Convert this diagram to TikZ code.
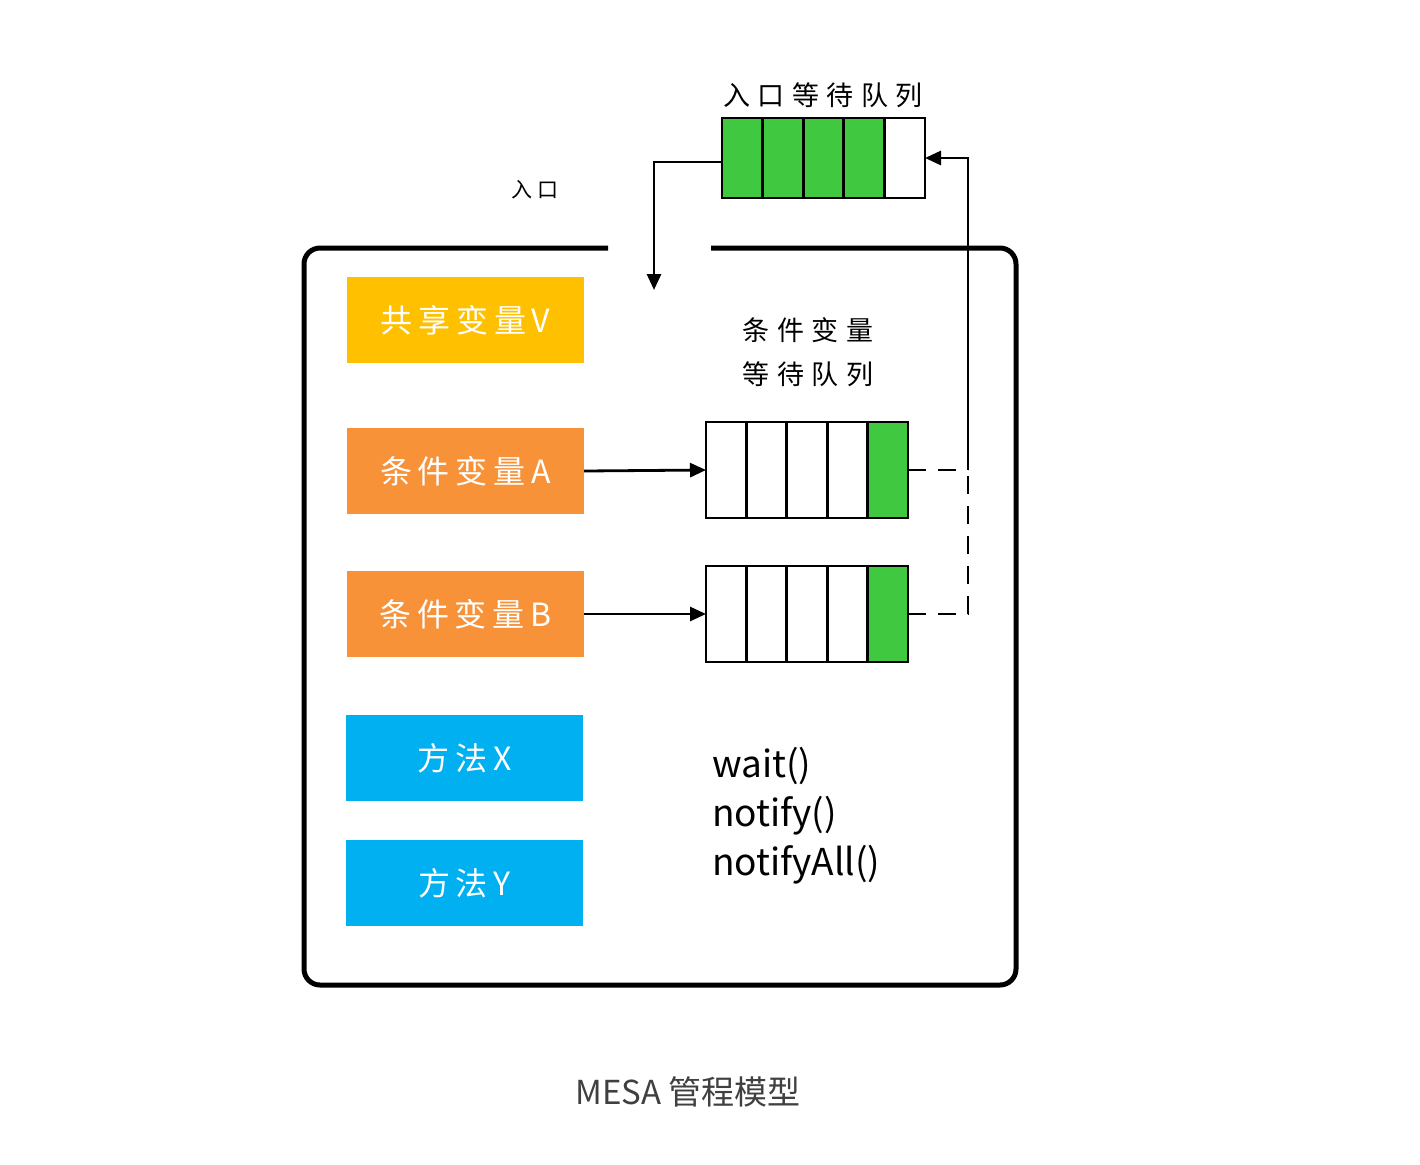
\documentclass[tikz,border=0pt]{standalone}
\usepackage{fontspec}
\setmainfont{Noto Sans CJK SC}
\newfontfamily\cjkw[LetterSpace=18]{Noto Sans CJK SC}
\newfontfamily\cjkww[LetterSpace=28]{Noto Sans CJK SC}
\usetikzlibrary{arrows.meta}
\definecolor{qgreen}{RGB}{64,200,64}
\definecolor{vyellow}{RGB}{255,192,0}
\definecolor{corange}{RGB}{247,146,57}
\definecolor{mblue}{RGB}{0,176,240}
\definecolor{capgray}{RGB}{64,64,64}
\begin{document}
\begin{tikzpicture}[x=0.5pt,y=-0.5pt,
  every node/.style={inner sep=0pt, outer sep=0pt},
  varbox/.style={minimum width=118.5pt, minimum height=43pt, text=white,
    font=\cjkw\fontsize{16}{18}\selectfont},
  ecell/.style={draw=black, line width=1.4pt, minimum width=20.3pt, minimum height=40pt},
  ccell/.style={draw=black, line width=1.4pt, minimum width=20.2pt, minimum height=48pt},
  conn/.style={line width=1.4pt, draw=black},
  tip/.style={-{Triangle[length=8pt,width=7pt]}},
  dline/.style={line width=1.4pt, dash pattern=on 9pt off 6pt},
  lbl/.style={font=\cjkww\fontsize{13.5}{22}\selectfont, align=center}
]
\useasboundingbox[fill=white] (0,0) rectangle (1420,1164);

% monitor outline
\coordinate (gapL) at (608,248);
\coordinate (gapR) at (711,248);
\draw[line width=2.5pt, rounded corners=8pt]
  (gapL) -- (304,248) -- (304,985) -- (1016,985) -- (1016,248) -- (gapR);

% labels
\node[font=\cjkww\fontsize{10.5}{12}\selectfont] (entrylbl) at (535,190) {入口};
\node[lbl] (eqlbl) at (823,95) {入口等待队列};
\node[lbl] (cqlbl) at (808,352) {条件变量\\[0pt]等待队列};

% entry queue
\foreach \i/\c in {1/qgreen,2/qgreen,3/qgreen,4/qgreen,5/white}
  \node[ecell, fill=\c] (e\i) at ({722+40.6*(\i-0.5)},158) {};

% condition queues
\foreach \i/\c in {1/white,2/white,3/white,4/white,5/qgreen}{
  \node[ccell, fill=\c] (qa\i) at ({706+40.4*(\i-0.5)},470) {};
  \node[ccell, fill=\c] (qb\i) at ({706+40.4*(\i-0.5)},614) {};
}

% boxes
\node[varbox, fill=vyellow] (sv) at (465.5,320) {共享变量V};
\node[varbox, fill=corange] (cva) at (465.5,471) {条件变量A};
\node[varbox, fill=corange] (cvb) at (465.5,614) {条件变量B};
\node[varbox, fill=mblue] (mx) at (464.5,758) {方法X};
\node[varbox, fill=mblue] (my) at (464.5,883) {方法Y};

% methods text
\node[anchor=west, align=left, font=\fontsize{18.5}{24.5}\selectfont] (meth) at (712,816)
  {wait()\\notify()\\notifyAll()};

% caption
\node[font=\fontsize{16.5}{20}\selectfont, text=capgray] (cap) at (688,1092) {MESA 管程模型};

% connectors
\coordinate (enter) at (654,290);
\draw[conn, tip] ([yshift=-2pt]e1.west) -| (enter);
\draw[conn, tip] (cva.east) -- (qa1.west);
\draw[conn, tip] (cvb.east) -- (qb1.west);
\coordinate (ra) at (968,470);
\draw[dline] (qa5.east) -- (ra);
\draw[dline] (qb5.east) -| (ra);
\draw[conn, tip] (ra) |- (e5.east);
\end{tikzpicture}
\end{document}
